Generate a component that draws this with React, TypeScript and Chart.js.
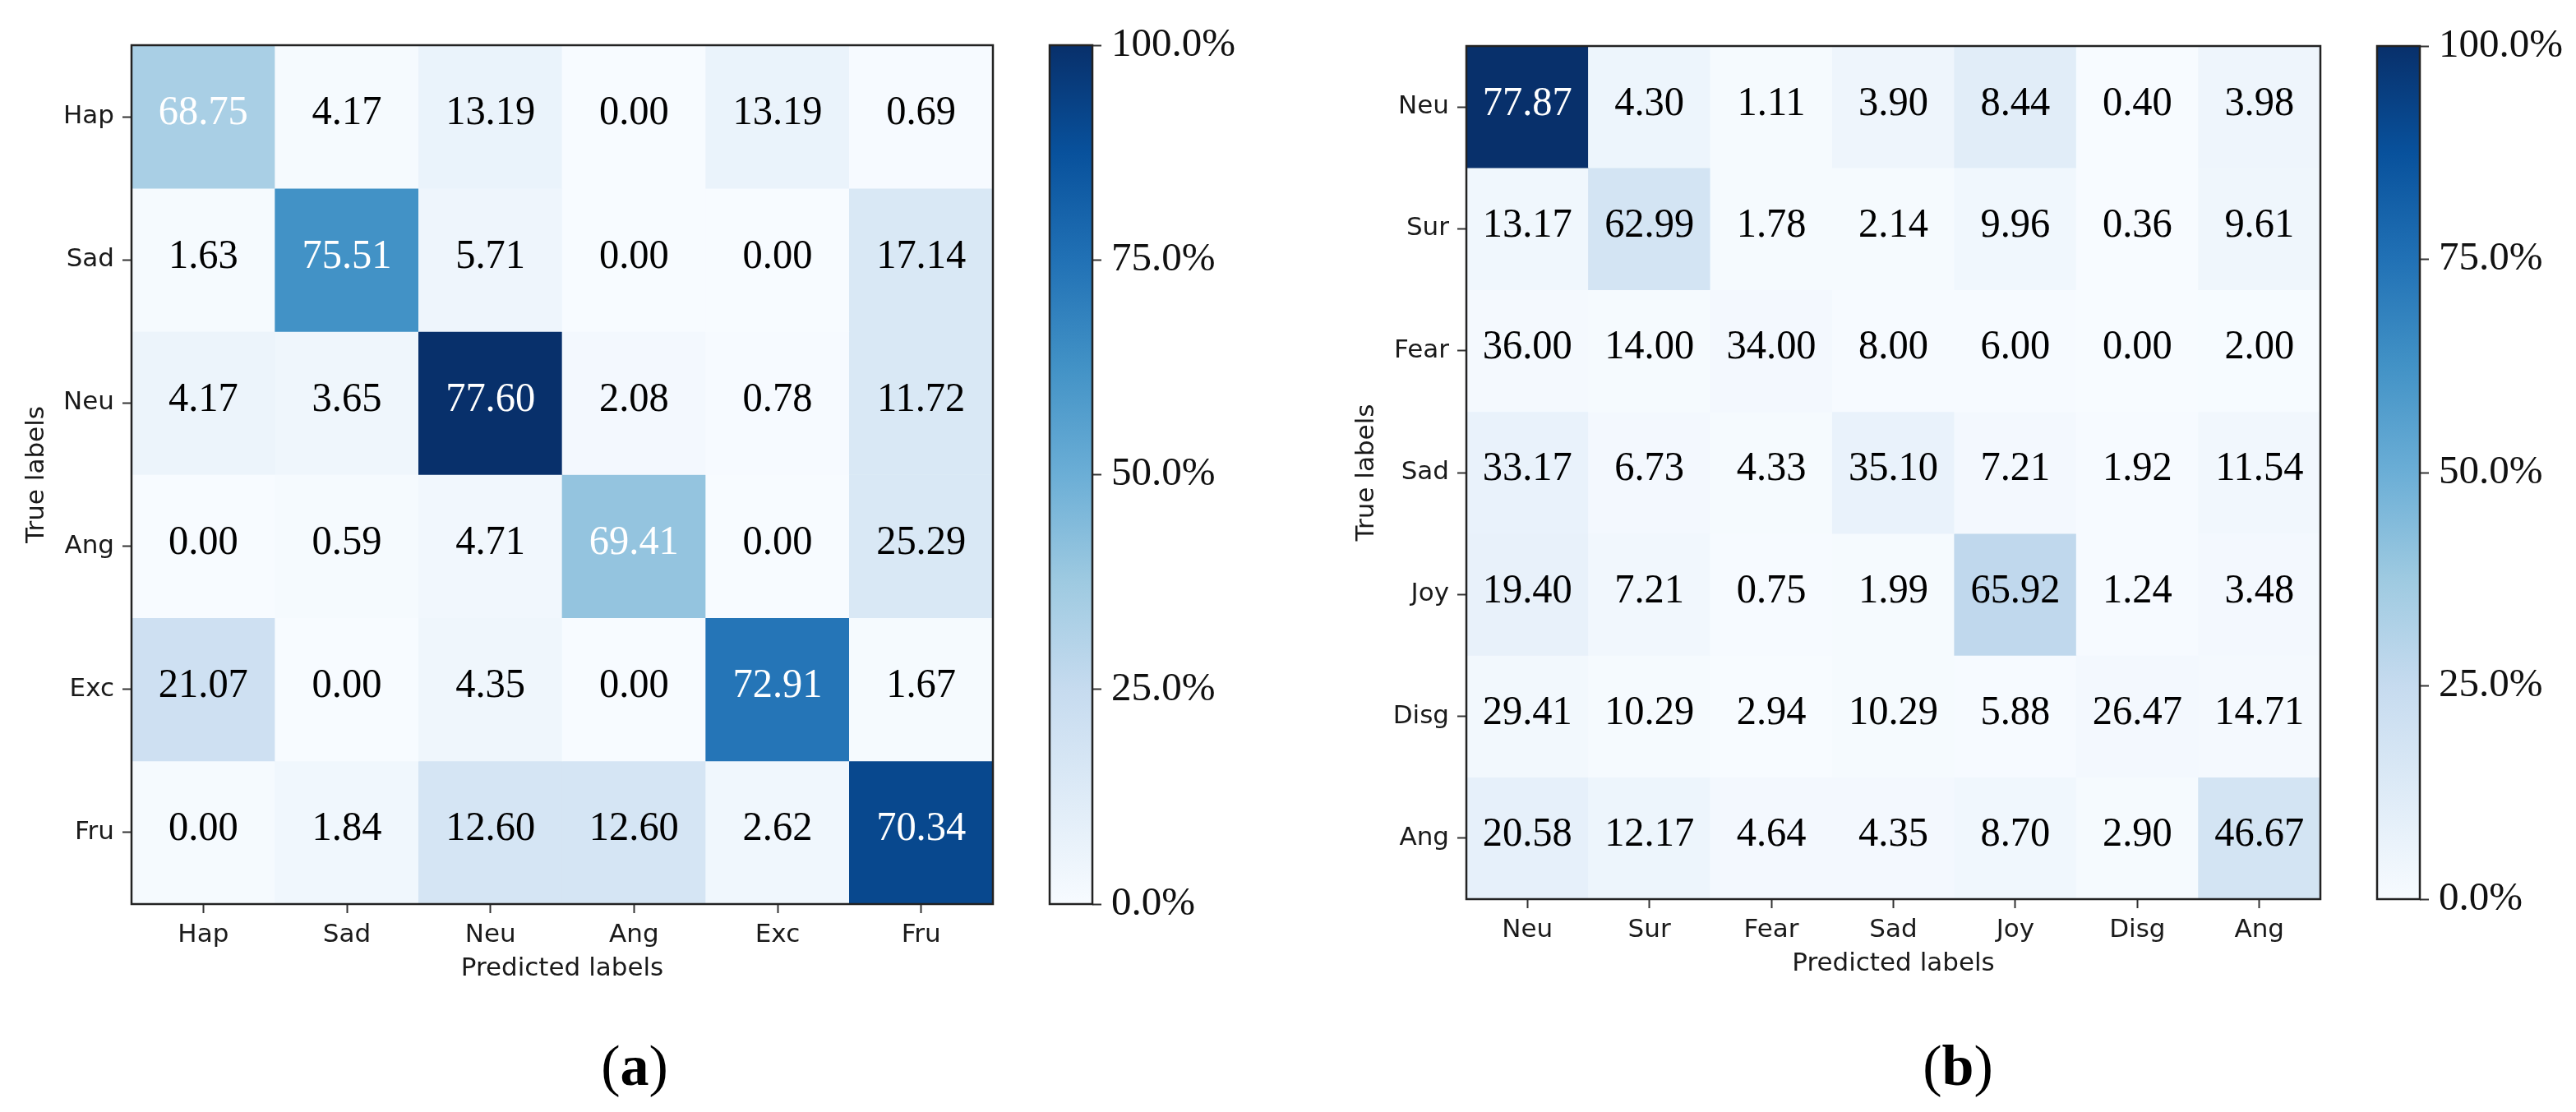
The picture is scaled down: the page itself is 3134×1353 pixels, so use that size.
import React, { useEffect, useRef } from 'react';
import { Chart, registerables } from 'chart.js';

Chart.register(...registerables);

// ---------------- data ----------------
const labelsA = ['Hap', 'Sad', 'Neu', 'Ang', 'Exc', 'Fru'];
const valuesA = [
  [68.75, 4.17, 13.19, 0.0, 13.19, 0.69],
  [1.63, 75.51, 5.71, 0.0, 0.0, 17.14],
  [4.17, 3.65, 77.6, 2.08, 0.78, 11.72],
  [0.0, 0.59, 4.71, 69.41, 0.0, 25.29],
  [21.07, 0.0, 4.35, 0.0, 72.91, 1.67],
  [0.0, 1.84, 12.6, 12.6, 2.62, 70.34],
];
// colour intensity (0..1 on the Blues map) read from each cell
const shadeA = [
  [0.34, 0.01, 0.065, 0.0, 0.065, 0.005],
  [0.01, 0.625, 0.045, 0.0, 0.0, 0.15],
  [0.055, 0.04, 1.0, 0.02, 0.005, 0.15],
  [0.0, 0.008, 0.03, 0.4, 0.0, 0.15],
  [0.21, 0.0, 0.04, 0.0, 0.735, 0.01],
  [0.01, 0.035, 0.17, 0.17, 0.035, 0.91],
];

const labelsB = ['Neu', 'Sur', 'Fear', 'Sad', 'Joy', 'Disg', 'Ang'];
const valuesB = [
  [77.87, 4.3, 1.11, 3.9, 8.44, 0.4, 3.98],
  [13.17, 62.99, 1.78, 2.14, 9.96, 0.36, 9.61],
  [36.0, 14.0, 34.0, 8.0, 6.0, 0.0, 2.0],
  [33.17, 6.73, 4.33, 35.1, 7.21, 1.92, 11.54],
  [19.4, 7.21, 0.75, 1.99, 65.92, 1.24, 3.48],
  [29.41, 10.29, 2.94, 10.29, 5.88, 26.47, 14.71],
  [20.58, 12.17, 4.64, 4.35, 8.7, 2.9, 46.67],
];
const shadeB = [
  [1.0, 0.05, 0.01, 0.045, 0.11, 0.0, 0.045],
  [0.035, 0.18, 0.01, 0.01, 0.035, 0.0, 0.04],
  [0.015, 0.01, 0.02, 0.005, 0.005, 0.0, 0.003],
  [0.07, 0.02, 0.01, 0.07, 0.02, 0.005, 0.03],
  [0.075, 0.03, 0.005, 0.01, 0.27, 0.005, 0.02],
  [0.025, 0.01, 0.0, 0.01, 0.005, 0.02, 0.015],
  [0.085, 0.05, 0.02, 0.02, 0.035, 0.01, 0.18],
];

const colorbarRange = [0, 100];
const colorbarTicks = [0, 25, 50, 75, 100];
const xTitle = 'Predicted labels';
const yTitle = 'True labels';
const captions = ['a', 'b'];

// ---------------- helpers ----------------
const BLUES = ['#f7fbff', '#deebf7', '#c6dbef', '#9ecae1', '#6baed6', '#4292c6', '#2171b5', '#08519c', '#08306b'];
const hex = (h: string) => [1, 3, 5].map((i) => parseInt(h.slice(i, i + 2), 16));
function blues(t: number): string {
  const c = Math.max(0, Math.min(1, t)) * 8;
  const i = Math.min(7, Math.floor(c));
  const f = c - i;
  const a = hex(BLUES[i]);
  const b = hex(BLUES[i + 1]);
  const m = a.map((v, k) => Math.round(v + (b[k] - v) * f));
  return `rgb(${m[0]},${m[1]},${m[2]})`;
}

const SANS = "'DejaVu Sans', sans-serif";
const SERIF = "'Liberation Serif', 'Times New Roman', serif";
const INK = '#1a1a1a';

const framePlugin = {
  id: 'frame',
  afterDraw(chart: any) {
    const { ctx, chartArea: a } = chart;
    ctx.save();
    ctx.strokeStyle = '#222';
    ctx.lineWidth = 2.5;
    ctx.strokeRect(a.left, a.top, a.right - a.left, a.bottom - a.top);
    ctx.restore();
  },
};

function cellTextPlugin(values: number[][], shades: number[][]) {
  return {
    id: 'cellText',
    afterDatasetsDraw(chart: any) {
      const { ctx } = chart;
      values.forEach((row, r) => {
        const meta = chart.getDatasetMeta(r);
        row.forEach((v, i) => {
          const el = meta.data[i] as any;
          if (!el) return;
          const cy = (el.y + el.base) / 2;
          ctx.save();
          ctx.font = `51px ${SERIF}`;
          ctx.textAlign = 'center';
          ctx.textBaseline = 'middle';
          ctx.fillStyle = shades[r][i] > 0.3 ? '#ffffff' : '#000000';
          ctx.translate(el.x, cy - 4);
          ctx.scale(0.95, 1);
          ctx.fillText(v.toFixed(2), 0, 0);
          ctx.restore();
        });
      });
    },
  };
}

interface MatrixSpec {
  labels: string[];
  values: number[][];
  shades: number[][];
  padding: { left: number; right: number; top: number; bottom: number };
  yAxisWidth: number;
  yTitlePad: number;
}

function matrixConfig(s: MatrixSpec): any {
  const n = s.labels.length;
  const tickFont = { family: SANS, size: 31 };
  return {
    type: 'bar',
    data: {
      labels: s.labels,
      datasets: s.values.map((row, r) => ({
        label: s.labels[r],
        data: row.map(() => [r - 0.5, r + 0.5]),
        backgroundColor: s.shades[r].map(blues),
        borderWidth: 0,
        barPercentage: 1,
        categoryPercentage: 1,
        grouped: false,
      })),
    },
    options: {
      animation: false,
      responsive: true,
      maintainAspectRatio: false,
      layout: { padding: s.padding },
      plugins: { legend: { display: false }, tooltip: { enabled: false } },
      scales: {
        x: {
          type: 'category',
          offset: true,
          grid: { drawOnChartArea: false, offset: false, tickLength: 11, tickColor: '#333', tickWidth: 2 },
          border: { display: false },
          ticks: { font: tickFont, color: INK, padding: 8, maxRotation: 0, autoSkip: false },
          title: { display: true, text: xTitle, font: tickFont, color: INK, padding: { top: 0, bottom: 12 } },
          afterFit: (sc: any) => {
            sc.height = 110;
          },
        },
        y: {
          type: 'linear',
          min: -0.5,
          max: n - 0.5,
          reverse: true,
          afterBuildTicks: (sc: any) => {
            sc.ticks = s.labels.map((_, i) => ({ value: i }));
          },
          grid: { drawOnChartArea: false, tickLength: 11, tickColor: '#333', tickWidth: 2 },
          border: { display: false },
          ticks: {
            font: tickFont,
            color: INK,
            padding: 10,
            callback: (v: number) => s.labels[v],
          },
          title: { display: true, text: yTitle, font: tickFont, color: INK, padding: { top: s.yTitlePad, bottom: 0 } },
          afterFit: (sc: any) => {
            sc.width = s.yAxisWidth;
          },
        },
      },
    },
    plugins: [cellTextPlugin(s.values, s.shades), framePlugin],
  };
}

function colorbarConfig(padding: any, axisWidth: number): any {
  return {
    type: 'bar',
    data: {
      labels: [''],
      datasets: [
        {
          data: [colorbarRange],
          backgroundColor: (ctx: any) => {
            const chart = ctx.chart;
            const a = chart.chartArea;
            if (!a) return BLUES[0];
            const g = chart.ctx.createLinearGradient(0, a.bottom, 0, a.top);
            BLUES.forEach((c, i) => g.addColorStop(i / (BLUES.length - 1), c));
            return g;
          },
          borderWidth: 0,
          barPercentage: 1,
          categoryPercentage: 1,
        },
      ],
    },
    options: {
      animation: false,
      responsive: true,
      maintainAspectRatio: false,
      layout: { padding },
      plugins: { legend: { display: false }, tooltip: { enabled: false } },
      scales: {
        x: { display: false },
        y: {
          position: 'right',
          min: colorbarRange[0],
          max: colorbarRange[1],
          afterBuildTicks: (sc: any) => {
            sc.ticks = colorbarTicks.map((v) => ({ value: v }));
          },
          grid: { drawOnChartArea: false, tickLength: 11, tickColor: '#333', tickWidth: 2 },
          border: { display: false },
          ticks: {
            font: { family: SERIF, size: 49 },
            color: '#111',
            padding: 12,
            callback: (v: number) => `${v.toFixed(1)}%`,
          },
          afterFit: (sc: any) => {
            sc.width = axisWidth;
          },
        },
      },
    },
    plugins: [framePlugin],
  };
}

function ChartBox({ make, left, top, width, height }: { make: () => any; left: number; top: number; width: number; height: number }) {
  const ref = useRef<HTMLCanvasElement | null>(null);
  useEffect(() => {
    if (!ref.current) return;
    const chart = new Chart(ref.current, make());
    return () => chart.destroy();
  }, []);
  return (
    <div style={{ position: 'absolute', left, top, width, height }}>
      <canvas ref={ref} />
    </div>
  );
}

export default function App() {
  return (
    <div style={{ position: 'absolute', left: 0, top: 0, width: 3134, height: 1353, background: '#fff', overflow: 'hidden' }}>
      <ChartBox
        left={0}
        top={0}
        width={1240}
        height={1240}
        make={() =>
          matrixConfig({
            labels: labelsA,
            values: valuesA,
            shades: shadeA,
            padding: { left: 0, right: 32, top: 55, bottom: 30 },
            yAxisWidth: 160,
            yTitlePad: 26,
          })
        }
      />
      <ChartBox
        left={1260}
        top={0}
        width={300}
        height={1240}
        make={() => colorbarConfig({ left: 17, right: 0, top: 55, bottom: 140 }, 231)}
      />
      <ChartBox
        left={1600}
        top={0}
        width={1250}
        height={1240}
        make={() =>
          matrixConfig({
            labels: labelsB,
            values: valuesB,
            shades: shadeB,
            padding: { left: 0, right: 27, top: 56, bottom: 36 },
            yAxisWidth: 184,
            yTitlePad: 44,
          })
        }
      />
      <ChartBox
        left={2870}
        top={0}
        width={264}
        height={1240}
        make={() => colorbarConfig({ left: 22, right: 0, top: 56, bottom: 146 }, 190)}
      />
      {[772, 2382].map((cx, i) => (
        <div
          key={captions[i]}
          style={{
            position: 'absolute',
            left: cx - 100,
            top: 1297 - 45,
            width: 200,
            height: 90,
            lineHeight: '90px',
            textAlign: 'center',
            fontFamily: SERIF,
            fontSize: 70,
            color: '#000',
          }}
        >
          (<b>{captions[i]}</b>)
        </div>
      ))}
    </div>
  );
}
